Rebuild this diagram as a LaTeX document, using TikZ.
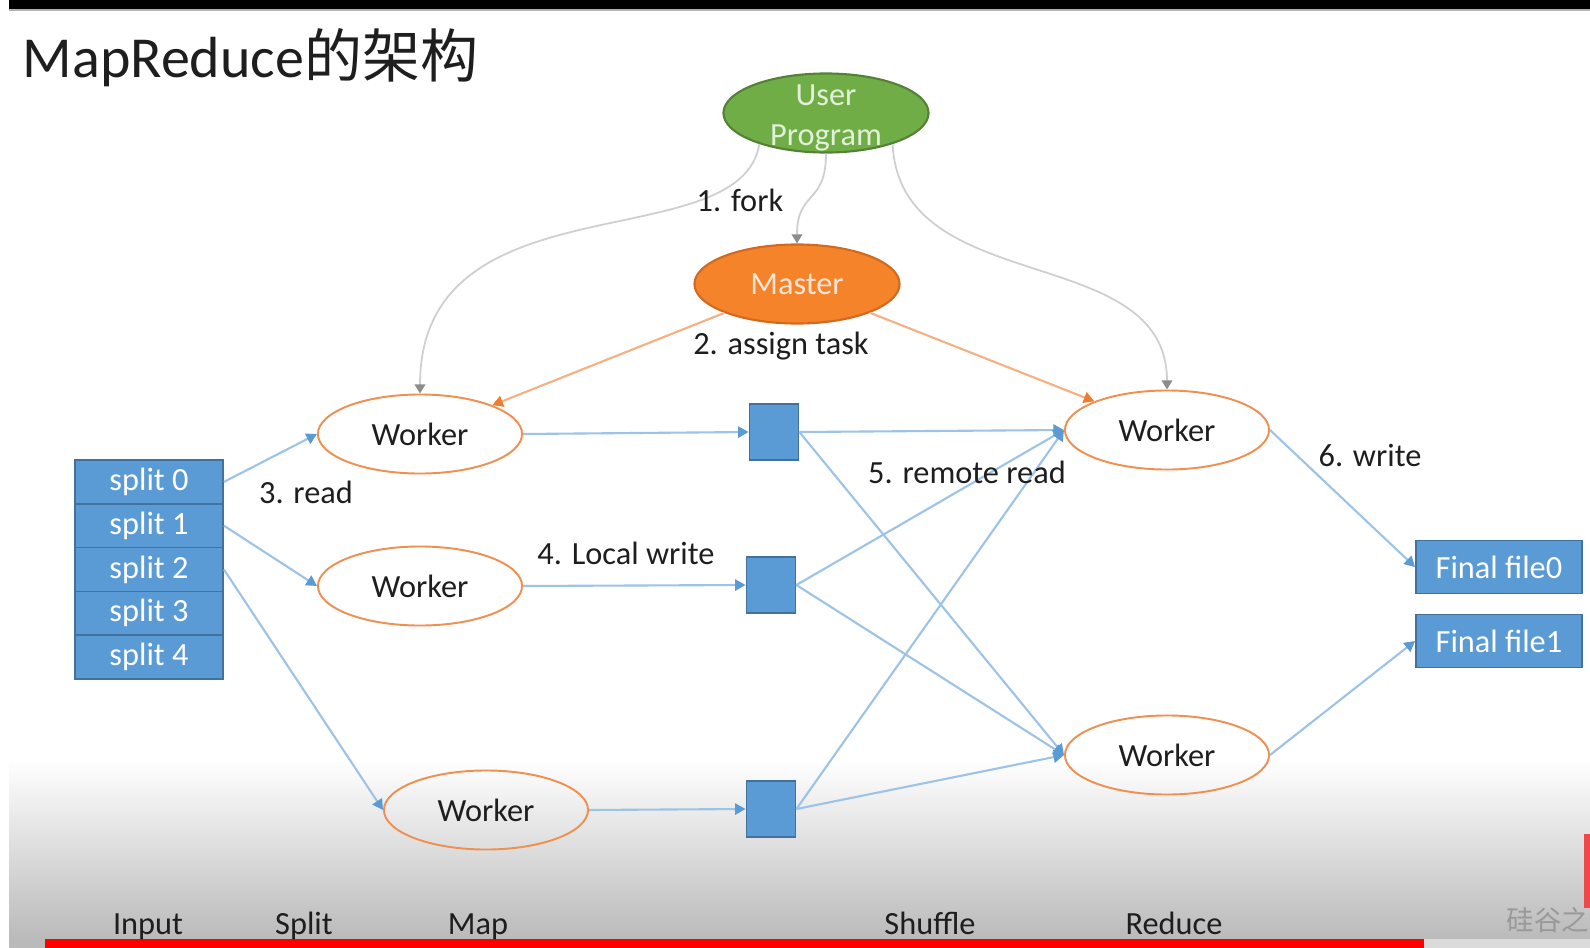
\documentclass[tikz,border=0pt]{standalone}
\usepackage{fontspec}
\setmainfont{Carlito}
\newfontfamily\cjkfont{Noto Sans CJK SC}
\usetikzlibrary{shapes.geometric,arrows.meta}

\definecolor{splitblue}{HTML}{5B9BD5}
\definecolor{splitedge}{HTML}{41719C}
\definecolor{lineblue}{HTML}{9DC3E6}
\definecolor{userfill}{HTML}{70AD47}
\definecolor{useredge}{HTML}{548235}
\definecolor{usertext}{HTML}{E2F0D9}
\definecolor{masterfill}{HTML}{F5832A}
\definecolor{masteredge}{HTML}{D2691E}
\definecolor{mastertext}{HTML}{FBE5D6}
\definecolor{workeredge}{HTML}{ED7D31}
\definecolor{lineorange}{HTML}{F4B183}
\definecolor{linegray}{HTML}{CFCFCF}
\definecolor{tipgray}{HTML}{8C8C8C}
\definecolor{textgray}{HTML}{1E1E1E}
\definecolor{barred}{HTML}{FF0000}
\definecolor{badgered}{HTML}{F04848}

\begin{document}
\begin{tikzpicture}[x=0.01cm, y=-0.01cm,
    every node/.style={font=\fontsize{9.2}{11.3}\selectfont, text=textgray},
    worker/.style={ellipse, draw=workeredge!85, line width=0.55pt, minimum width=2.04cm, minimum height=0.79cm, inner sep=0pt},
    splitbox/.style={rectangle, fill=splitblue, draw=splitedge, line width=0.5pt, minimum width=1.48cm, minimum height=0.438cm, inner sep=0pt, text=white},
    filebox/.style={rectangle, fill=splitblue, draw=splitedge, line width=0.5pt, minimum width=1.66cm, minimum height=0.53cm, inner sep=0pt, text=white},
    buffer/.style={rectangle, fill=splitblue, draw=splitedge, line width=0.5pt, minimum width=0.49cm, minimum height=0.56cm, inner sep=0pt},
    flow/.style={lineblue, line width=0.6pt, -{Triangle[width=3.2pt,length=3pt,color=splitblue]}},
    assign/.style={lineorange, line width=0.6pt, -{Triangle[width=3.2pt,length=3pt,color=workeredge]}},
    fork/.style={linegray, line width=0.5pt, -{Triangle[width=3pt,length=2.6pt,color=tipgray]}},
    stage/.style={inner sep=0pt, anchor=base}
  ]
  % background of the screen shot
  \useasboundingbox (0,0) rectangle (1590,948);
  \fill[white] (0,0) rectangle (1590,948);
  \fill[black] (9,0) rectangle (1590,9);
  \draw[gray!60, line width=0.3pt] (9,10) -- (1590,10);
  \shade[top color=white, bottom color=black!27] (9,760) rectangle (1590,939);
  \fill[black!27] (9,939) rectangle (45,948);
  \fill[black!14] (1424,939) rectangle (1590,948);
  \fill[barred] (45,939) rectangle (1424,948);
  \fill[badgered] (1584,834) rectangle (1590,908);
  \begin{scope}
    \clip (1400,900) rectangle (1590,939);
    \node[anchor=west, inner sep=0pt, text=black!40, font=\fontsize{7.8}{8}\selectfont\cjkfont] (mark) at (1506,920) {硅谷之};
  \end{scope}

  \node[anchor=west, inner sep=0pt, font=\fontsize{16.5}{20}\selectfont] (title) at (22,58) {MapReduce{\cjkfont 的架构}};

  % user program and master
  \node[ellipse, fill=userfill, draw=useredge, line width=0.6pt, minimum width=2.05cm, minimum height=0.79cm, inner sep=0pt] (user) at (826,113) {};
  \node[text=usertext, align=center, inner sep=0pt] (usertxt) at (826,118) {User\\Program};
  \node[ellipse, fill=masterfill, draw=masteredge, line width=0.6pt, minimum width=2.05cm, minimum height=0.79cm, inner sep=0pt, text=mastertext] (master) at (797,284) {Master};

  % input splits
  \foreach \i in {0,...,4}
    \node[splitbox] (s\i) at (149,{481.9+43.8*\i}) {split \i};

  % map workers
  \node[worker] (w1) at (420,434) {Worker};
  \node[worker] (w2) at (420,586) {Worker};
  \node[worker] (w3) at (486,810) {Worker};

  % intermediate files
  \node[buffer] (b1) at (774,432) {};
  \node[buffer] (b2) at (771,585) {};
  \node[buffer] (b3) at (771,809) {};

  % reduce workers
  \node[worker] (r1) at (1167,430) {Worker};
  \node[worker] (r2) at (1167,755) {Worker};

  % output files
  \node[filebox] (f0) at (1499,567) {Final file0};
  \node[filebox] (f1) at (1499,641) {Final file1};

  % 1. fork
  \draw[fork] (user.205) .. controls (740,260) and (420,175) .. (w1.north);
  \draw[fork] (user.south) .. controls (826,205) and (797,190) .. (master.north);
  \draw[fork] (user.335) .. controls (900,300) and (1167,240) .. (r1.north);

  % 2. assign task
  \draw[assign] (master) -- (w1);
  \draw[assign] (master) -- (r1);

  % 3. read
  \draw[flow] (s0.east) -- (w1.west);
  \draw[flow] (s1.east) -- (w2.west);
  \draw[flow] (s2.east) -- (w3.west);

  % 4. local write
  \draw[flow] (w1.east) -- (b1.west);
  \draw[flow] (w2.east) -- (b2.west);
  \draw[flow] (w3.east) -- (b3.west);

  % 5. remote read
  \foreach \b in {b1,b2,b3} {
    \draw[flow] (\b.east) -- (r1.west);
    \draw[flow] (\b.east) -- (r2.west);
  }

  % 6. write
  \draw[flow] (r1.east) -- (f0.west);
  \draw[flow] (r2.east) -- (f1.west);

  % step labels
  \node (lfork) at (740,200) {1. fork};
  \node (lassign) at (781,346) {2. assign task};
  \node (lread) at (306,492) {3. read};
  \node (lwrite) at (626,553) {4. Local write};
  \node (lremote) at (967,472) {5. remote read};
  \node (lout) at (1370,455) {6. write};

  % stages
  \node[stage] (input) at (148,934) {Input};
  \node[stage] (split) at (304,934) {Split};
  \node[stage] (map) at (478,934) {Map};
  \node[stage] (shuffle) at (930,934) {Shuffle};
  \node[stage] (reduce) at (1174,934) {Reduce};
\end{tikzpicture}
\end{document}
